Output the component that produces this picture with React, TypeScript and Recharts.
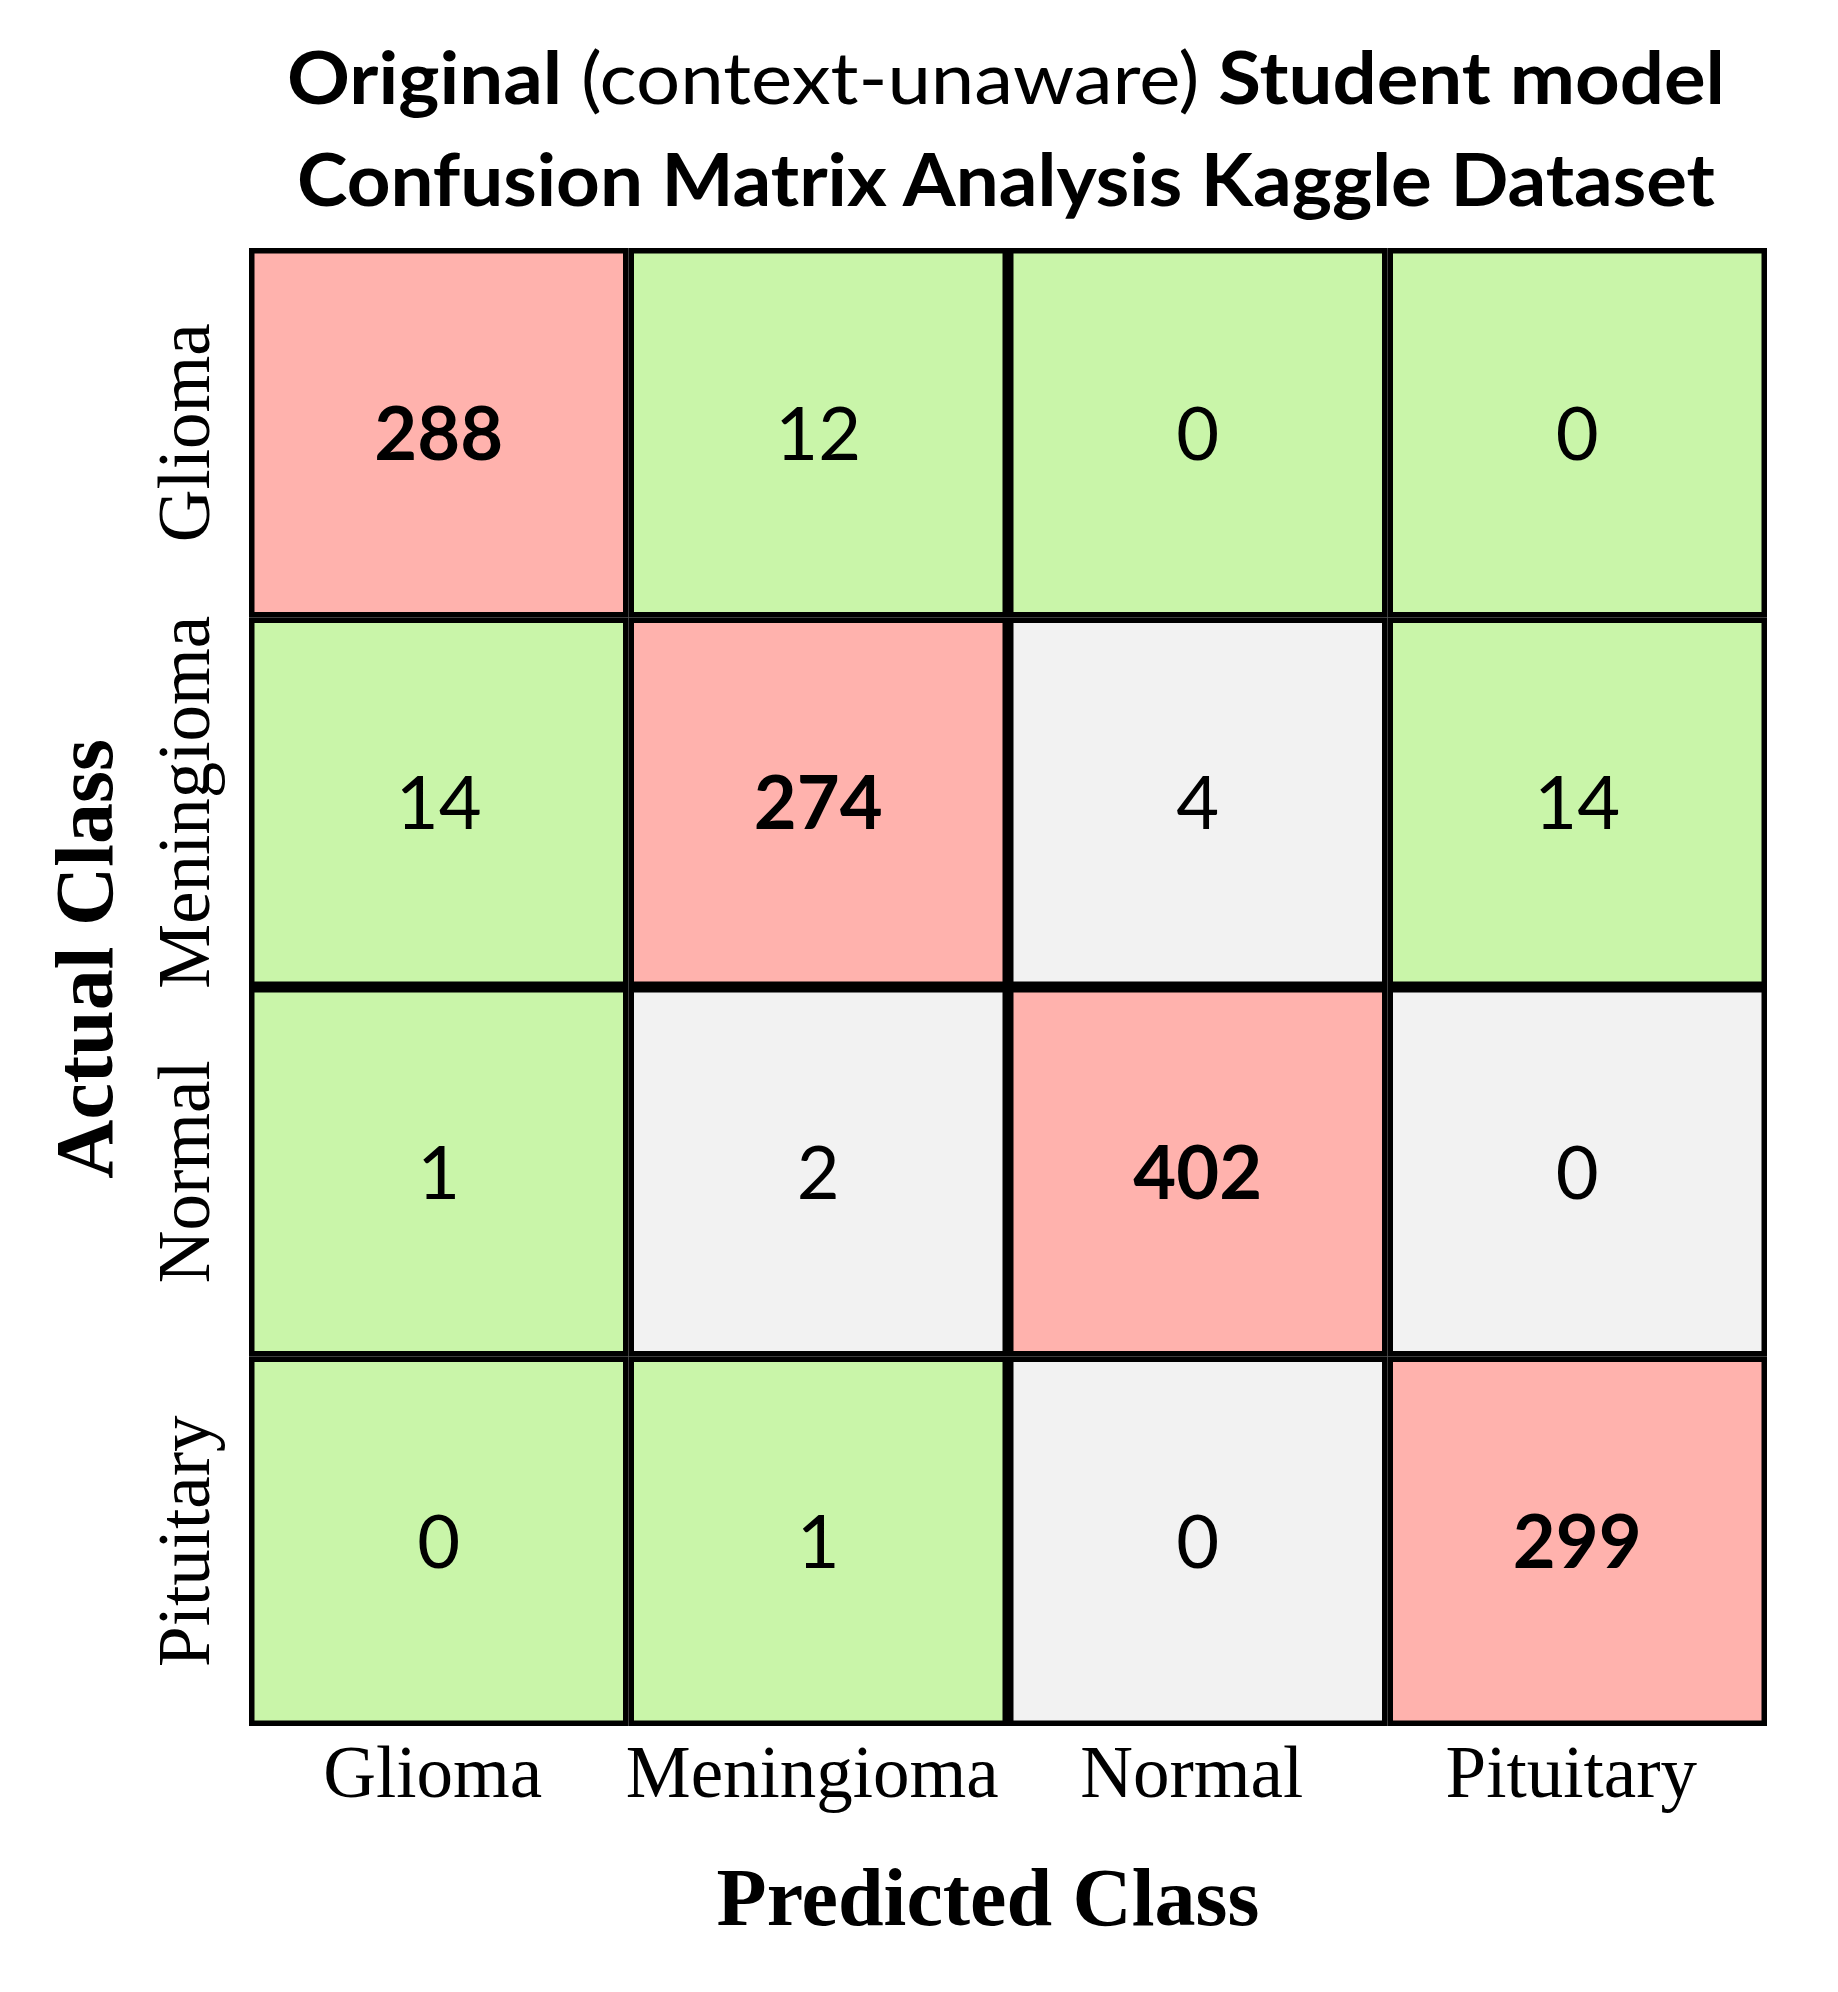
import { ScatterChart, Scatter, XAxis, YAxis, Customized } from 'recharts'

const classes = ['Glioma', 'Meningioma', 'Normal', 'Pituitary']

// rows = actual class, columns = predicted class
const gliomaRow = [288, 12, 0, 0]
const meningiomaRow = [14, 274, 4, 14]
const normalRow = [1, 2, 402, 0]
const pituitaryRow = [0, 1, 0, 299]
const matrix = [gliomaRow, meningiomaRow, normalRow, pituitaryRow]

// d = diagonal, g = green, n = grey
const tones = [
  ['d', 'g', 'g', 'g'],
  ['g', 'd', 'n', 'g'],
  ['g', 'n', 'd', 'n'],
  ['g', 'g', 'n', 'd'],
]

const titleLine1 = ['Original ', '(context-unaware)', ' Student model']
const titleLine2 = 'Confusion Matrix Analysis Kaggle Dataset'

const toneFill: Record<string, string> = { d: '#FFB2AD', g: '#C9F5A9', n: '#F2F2F2' }

const W = 1838
const H = 1992
const margin = { top: 248, right: 71, bottom: 166, left: 99 }
const yAxisW = 150
const xAxisH = 100
const plotW = W - margin.left - margin.right - yAxisW
const plotH = H - margin.top - margin.bottom - xAxisH
const cellW = plotW / classes.length
const cellH = plotH / classes.length
const border = 5.5

const serif = '"Liberation Serif", "Times New Roman", serif'
const sans = 'Lato, "Open Sans", sans-serif'

const data = matrix.flatMap((row, i) =>
  row.map((count, j) => ({
    actual: classes[i],
    predicted: classes[j],
    count,
    tone: tones[i][j],
  }))
)

function CellShape(props: any) {
  const { cx, cy, payload } = props
  const diag = payload.tone === 'd'
  return (
    <g>
      <rect
        x={cx - cellW / 2 + border / 2}
        y={cy - cellH / 2 + border / 2}
        width={cellW - border}
        height={cellH - border}
        fill={toneFill[payload.tone]}
        stroke="#000"
        strokeWidth={border}
      />
      <text
        x={cx}
        y={cy + 27}
        textAnchor="middle"
        fontFamily={sans}
        fontSize={74}
        fontWeight={diag ? 700 : 400}
        fill="#000"
      >
        {payload.count}
      </text>
    </g>
  )
}

function XTick({ x, y, payload }: any) {
  return (
    <text x={x - 6} y={y + 63} textAnchor="middle" fontFamily={serif} fontSize={73} fill="#000">
      {payload.value}
    </text>
  )
}

function YTick({ x, y, payload }: any) {
  const bx = x - 32
  return (
    <text
      x={bx}
      y={y}
      transform={`rotate(-90 ${bx} ${y})`}
      textAnchor="middle"
      fontFamily={serif}
      fontSize={73}
      fill="#000"
    >
      {payload.value}
    </text>
  )
}

function Titles() {
  const cx = margin.left + yAxisW + plotW / 2
  return (
    <g>
      <text
        x={cx - 2}
        y={104}
        textAnchor="middle"
        fontFamily={sans}
        fontSize={72}
        textLength={1438}
        lengthAdjust="spacingAndGlyphs"
        fill="#000"
      >
        <tspan fontWeight={700}>{titleLine1[0]}</tspan>
        <tspan fontWeight={400}>{titleLine1[1]}</tspan>
        <tspan fontWeight={700}>{titleLine1[2]}</tspan>
      </text>
      <text
        x={cx - 2}
        y={206}
        textAnchor="middle"
        fontFamily={sans}
        fontSize={72}
        fontWeight={700}
        textLength={1418}
        lengthAdjust="spacingAndGlyphs"
        fill="#000"
      >
        {titleLine2}
      </text>
      <text
        x={cx - 20}
        y={H - margin.bottom + 99}
        textAnchor="middle"
        fontFamily={serif}
        fontSize={82}
        fontWeight={700}
        fill="#000"
      >
        Predicted Class
      </text>
      <text
        x={112}
        y={margin.top + plotH / 2 - 28}
        transform={`rotate(-90 112 ${margin.top + plotH / 2 - 28})`}
        textAnchor="middle"
        fontFamily={serif}
        fontSize={82}
        fontWeight={700}
        fill="#000"
      >
        Actual Class
      </text>
    </g>
  )
}

export default function App() {
  return (
    <div style={{ position: 'absolute', left: 0, top: 0, width: W, height: H, background: '#fff' }}>
      <ScatterChart width={W} height={H} margin={margin}>
        <XAxis
          type="category"
          dataKey="predicted"
          allowDuplicatedCategory={false}
          height={xAxisH}
          axisLine={false}
          tickLine={false}
          tick={<XTick />}
          interval={0}
        />
        <YAxis
          type="category"
          dataKey="actual"
          allowDuplicatedCategory={false}
          width={yAxisW}
          reversed
          axisLine={false}
          tickLine={false}
          tick={<YTick />}
          interval={0}
        />
        <Scatter data={data} shape={<CellShape />} isAnimationActive={false} />
        <Customized component={<Titles />} />
      </ScatterChart>
    </div>
  )
}
